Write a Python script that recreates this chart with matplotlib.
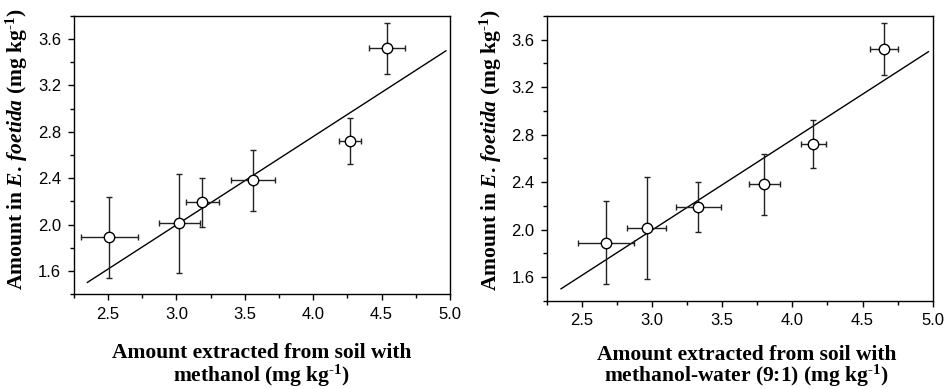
import numpy as np
import matplotlib
matplotlib.use("Agg")
import matplotlib.pyplot as plt
from matplotlib.ticker import MultipleLocator

# --- data ---
# panel A: methanol extraction
x_meoh = [2.51, 3.02, 3.19, 3.56, 4.27, 4.54]
xerr_meoh = [0.21, 0.15, 0.12, 0.16, 0.08, 0.13]
# panel B: methanol-water (9:1) extraction
x_mw = [2.67, 2.96, 3.33, 3.80, 4.15, 4.65]
xerr_mw = [0.20, 0.14, 0.16, 0.11, 0.09, 0.10]
# amount in E. foetida (same for both panels)
y_worm = [1.89, 2.01, 2.19, 2.38, 2.72, 3.52]
yerr_worm = [0.35, 0.43, 0.21, 0.26, 0.20, 0.22]
# regression lines (slope, intercept, x range)
fit_meoh = (0.763, -0.293, 2.35, 4.97)
fit_mw = (0.763, -0.293, 2.35, 4.97)

sup = r"$^{\text{-}1}$"
xlabels = [("Amount extracted from soil with", "methanol (mg kg" + sup + ")"),
           ("Amount extracted from soil with", "methanol-water (9:1) (mg kg" + sup + ")")]
ylabel = r"Amount in $\it{E.\,foetida}$ (mg kg" + sup + ")"

plt.rcParams['mathtext.fontset'] = 'custom'
plt.rcParams['mathtext.rm'] = 'Liberation Serif:bold'
plt.rcParams['mathtext.it'] = 'Liberation Serif:italic:bold'
plt.rcParams['mathtext.bf'] = 'Liberation Serif:bold'

fig = plt.figure(figsize=(9.46, 3.89), dpi=100)
ax1 = fig.add_axes([0.0779, 0.2442, 0.3978, 0.7147])
ax2 = fig.add_axes([0.5782, 0.2270, 0.4077, 0.7319])

# (axes, x, xerr, fit, xlabel lines, ylabel coords, xlabel x, baselines)
panels = [(ax1, x_meoh, xerr_meoh, fit_meoh, xlabels[0], (-0.116, 0.52), 0.5, (-0.231, -0.315)),
          (ax2, x_mw, xerr_mw, fit_mw, xlabels[1], (-0.111, 0.529), 0.517, (-0.208, -0.286))]

lab_kw = dict(fontsize=15.5, fontfamily='Liberation Serif', fontweight='bold')

for ax, xs, xe, fit, xl, ypos, xc, bases in panels:
    slope, icpt, x0, x1 = fit
    xx = np.array([x0, x1])
    ax.plot(xx, slope * xx + icpt, color='black', lw=1.0, zorder=2)
    ax.errorbar(xs, y_worm, xerr=xe, yerr=yerr_worm, fmt='o', ms=7.5,
                mfc='white', mec='black', mew=1.0, ecolor='#222222',
                elinewidth=1.0, capsize=2.5, capthick=1.0, zorder=3)
    ax.set_xlim(2.25, 5.0)
    ax.set_ylim(1.4, 3.8)
    ax.xaxis.set_major_locator(MultipleLocator(0.5))
    ax.xaxis.set_minor_locator(MultipleLocator(0.25))
    ax.yaxis.set_major_locator(MultipleLocator(0.4))
    ax.yaxis.set_minor_locator(MultipleLocator(0.2))
    ax.set_xticks([2.5, 3.0, 3.5, 4.0, 4.5, 5.0])
    ax.set_yticks([1.6, 2.0, 2.4, 2.8, 3.2, 3.6])
    ax.tick_params(which='both', direction='out', top=False, right=False, width=1.0)
    ax.tick_params(which='major', length=4, labelsize=12, pad=5)
    ax.tick_params(which='minor', length=3)
    for lab in ax.get_xticklabels() + ax.get_yticklabels():
        lab.set_fontfamily('Liberation Sans')
    for sp in ax.spines.values():
        sp.set_linewidth(1.0)
    ax.set_ylabel(ylabel, **lab_kw)
    ax.yaxis.set_label_coords(*ypos)
    # two-line x label, each line placed on its own baseline
    for line, yb in zip(xl, bases):
        ax.text(xc, yb, line, transform=ax.transAxes, ha='center', va='baseline', **lab_kw)

fig.savefig("out.png", dpi=100)
